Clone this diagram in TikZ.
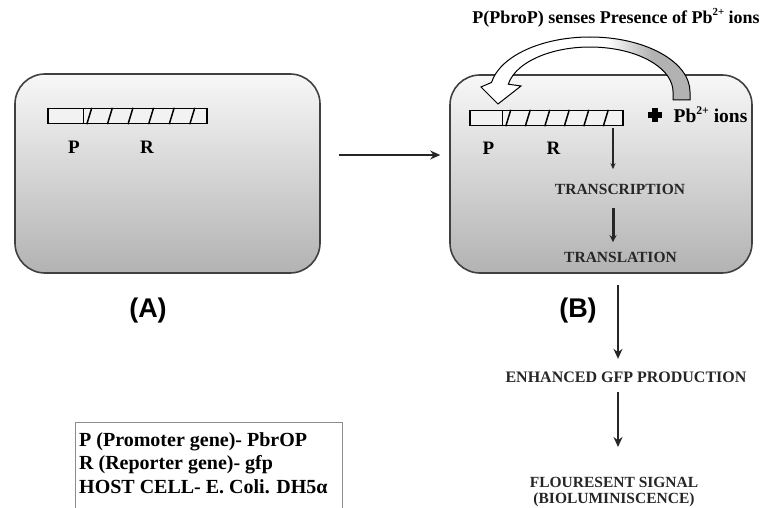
\documentclass[tikz,border=0pt]{standalone}
\usepackage{fontspec}
\setmainfont{Liberation Serif}
\newfontfamily\panelsans{Liberation Sans}
\usetikzlibrary{arrows.meta,calc}

% white head fading into grey tail for the bent arrow
\pgfdeclarehorizontalshading{bendshade}{100bp}{color(0bp)=(white); color(55bp)=(white); color(66bp)=(black!30); color(100bp)=(black!30)}

\newcommand{\chargesup}{\raisebox{0.42em}{\scalebox{0.6}{2+}}}

\begin{document}
\begin{tikzpicture}[x=1pt,y=-1pt,
  cell/.style={draw=black!75, line width=1.6pt, rounded corners=30pt,
    top color=black!3, bottom color=black!30, inner sep=0pt},
  genebar/.style={draw=black, line width=1.4pt, fill=black!5, inner sep=0pt,
    minimum height=15pt},
  genetick/.style={line width=1.5pt},
  genelbl/.style={anchor=base, font=\fontsize{19}{21}\selectfont\bfseries},
  stage/.style={anchor=base, text=black!85, font=\fontsize{15.5}{16}\selectfont\bfseries},
  panel/.style={anchor=base, font=\panelsans\fontsize{27}{30}\selectfont\bfseries},
  conn/.style={line width=1.6pt, draw=black!85, -{Stealth[length=10pt,width=9pt]}},
  thinconn/.style={line width=1.4pt, draw=black!85, -{Stealth[length=6pt,width=5pt]}},
  thickconn/.style={line width=3pt, draw=black!85, -{Stealth[length=7pt,width=7pt]}}
]
\useasboundingbox (0,0) rectangle (761,508);

% host cells
\node[cell, minimum width=305pt, minimum height=199pt] (boxA) at (167.5,173.5) {};
\node[cell, minimum width=302pt, minimum height=198pt] (boxB) at (601,174) {};

% gene constructs: promoter segment, then hatched reporter segment
\node[genebar, minimum width=159pt] (barA) at (127.5,116) {};
\draw[genetick] ([xshift=36pt]barA.south west) -- ([xshift=36pt]barA.north west);
\foreach \d in {42,62.6,83.2,103.8,124.4,145}
  \draw[genetick] ([xshift={(\d-2.5)*1pt}]barA.south west) -- ([xshift={(\d+2.5)*1pt}]barA.north west);

\node[genebar, minimum width=153pt] (barB) at (546.5,118) {};
\draw[genetick] ([xshift=33pt]barB.south west) -- ([xshift=33pt]barB.north west);
\foreach \d in {39,58.5,78,97.5,117,136.5}
  \draw[genetick] ([xshift={(\d-2.5)*1pt}]barB.south west) -- ([xshift={(\d+2.5)*1pt}]barB.north west);

\node[genelbl] (pA) at (74,154) {P};
\node[genelbl] (rA) at (147,154) {R};
\node[genelbl] (pB) at (488.5,155) {P};
\node[genelbl] (rB) at (553.5,155) {R};

% lead ions bending back onto the promoter
\draw[black, line width=1pt, shading=bendshade]
  (690,100) -- (690,92) arc[start angle=0, end angle=-170, x radius=100, y radius=55]
  -- (481,87) -- (498,104) -- (521,86) -- (508.3,84.2)
  arc[start angle=-170, end angle=0, x radius=83, y radius=45]
  -- (673,100) -- cycle;

\node[anchor=base, font=\fontsize{18}{20}\selectfont\bfseries] (sense) at (616,23.5)
  {P(PbroP) senses Presence of Pb\chargesup\ ions};

% plus sign and ions
\fill (648,112) rectangle (662,118);
\fill (652,108) rectangle (658,122);
\node[anchor=base, font=\fontsize{19.5}{21}\selectfont\bfseries] (ions) at (710.5,123)
  {Pb\chargesup\ ions};

% expression steps
\node[stage] (tx) at (620,195) {TRANSCRIPTION};
\node[stage] (tl) at (620.5,262) {TRANSLATION};
\node[stage, font=\fontsize{16}{16}\selectfont\bfseries] (gfp) at (626,382) {ENHANCED GFP PRODUCTION};
\node[anchor=north, align=center, text=black!85, font=\fontsize{15.5}{16}\selectfont\bfseries]
  (sig) at (614,474) {FLOURESENT SIGNAL\\(BIOLUMINISCENCE)};

\node[panel] (labA) at (148,317) {(A)};
\node[panel] (labB) at (578,317) {(B)};

% connectors
\coordinate (midrow) at (0,155);
\coordinate (colin) at (613,0);
\coordinate (colout) at (618,0);
\draw[conn, shorten <=18pt, shorten >=9pt] (boxA.east |- midrow) -- (boxB.west |- midrow);
\draw[thinconn, shorten <=2pt, shorten >=12pt] (barB.south -| colin) -- (tx.north -| colin);
\draw[thickconn, shorten <=9pt, shorten >=6pt] (tx.south -| colin) -- (tl.north -| colin);
\draw[conn, shorten <=11pt, shorten >=9pt] (boxB.south -| colout) -- (gfp.north -| colout);
\draw[conn, shorten <=6pt, shorten >=27pt] (gfp.south -| colout) -- (sig.north -| colout);

% key
\draw[black!45, line width=1pt] (75,508) |- (342,422) -- (342,508);
\node[anchor=north west, inner sep=0pt, align=left, font=\fontsize{20}{23.5}\selectfont\bfseries]
  (key) at (79,432) {P (Promoter gene)- PbrOP\\R (Reporter gene)- gfp\\HOST CELL- E. Coli. DH5α};
\end{tikzpicture}
\end{document}
